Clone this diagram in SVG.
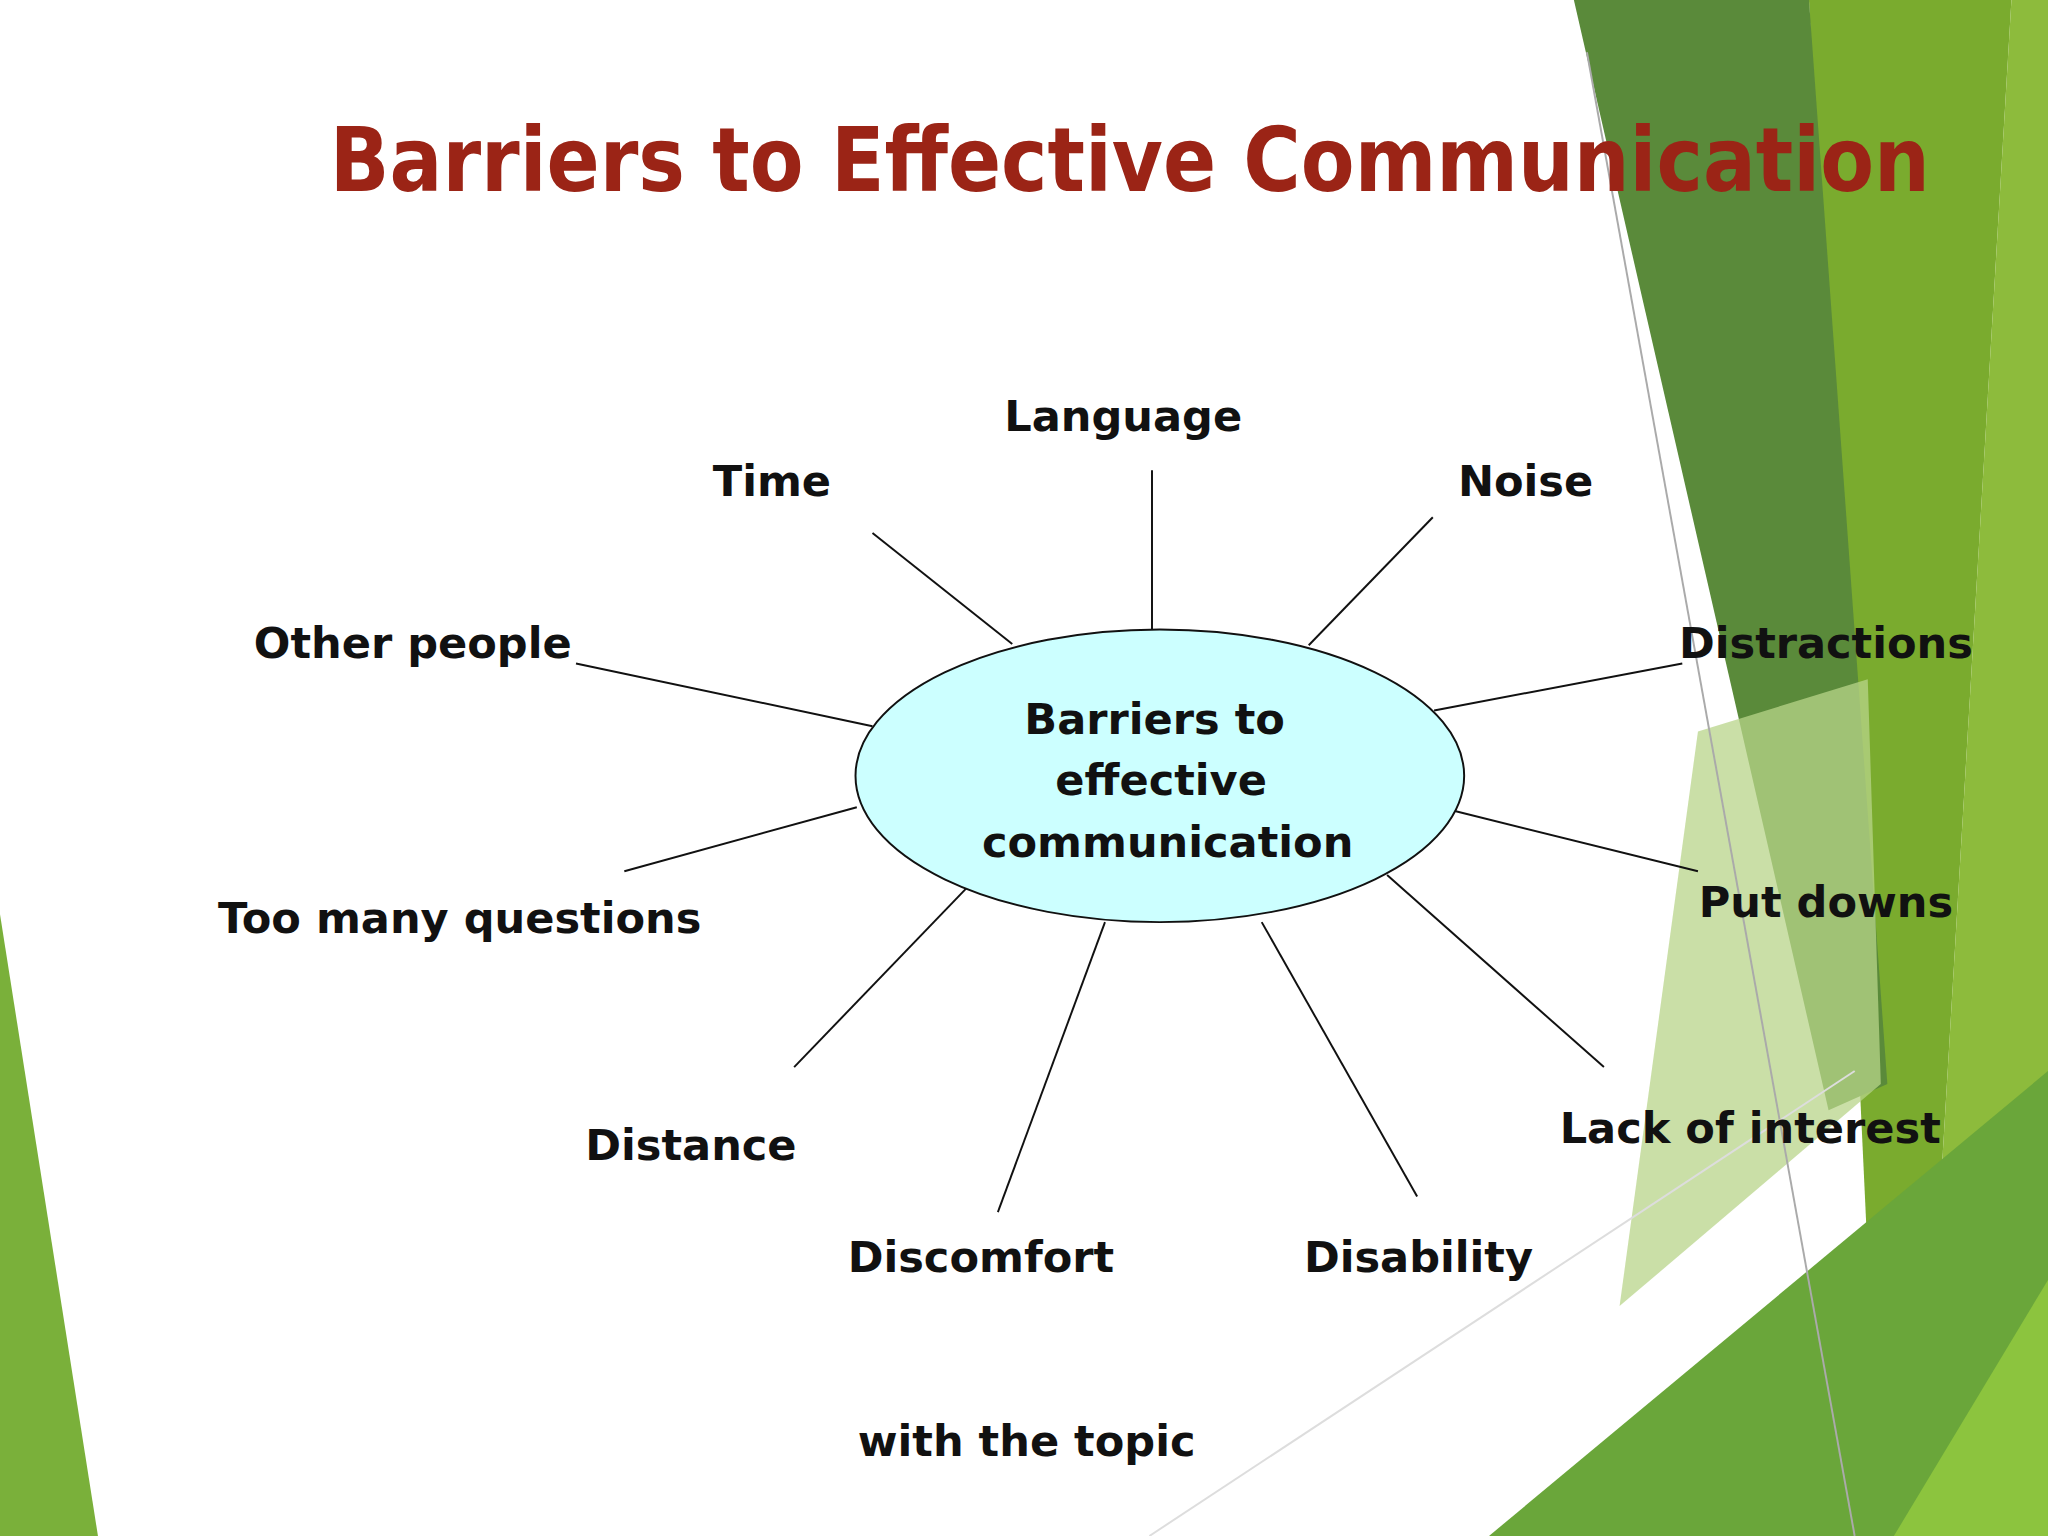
<svg xmlns="http://www.w3.org/2000/svg" width="2048" height="1536" viewBox="0 0 2048 1536">
<style>
.l{font-family:"DejaVu Sans",sans-serif;font-weight:bold;font-size:33px;fill:#111}
.c{stroke:#111;stroke-width:1.5;fill:none}
</style>
<rect width="2048" height="1536" fill="#fff"/>
<g transform="scale(1.30612)">
<g id="background">
<polygon points="1385,0 1540,0 1470,1176 1440,1176" fill="#7aab2e"/>
<polygon points="1540,0 1568,0 1568,1176 1470,1176" fill="#8dbb3c"/>
<polygon points="1205,0 1385,0 1445,830 1400,850" fill="#5a8a3a"/>
<polygon points="1300,560 1430,520 1440,830 1240,1000" fill="#b8d48a" opacity="0.75"/>
<polygon points="1140,1176 1568,820 1568,1176" fill="#6aa63a"/>
<polygon points="1450,1176 1568,980 1568,1176" fill="#8cc43e"/>
<polygon points="0,700 0,1176 75,1176" fill="#7ab03a"/>
<line x1="1215" y1="40" x2="1420" y2="1176" stroke="#aaa" stroke-width="1.5"/>
<line x1="880" y1="1176" x2="1420" y2="820" stroke="#ddd" stroke-width="1.5"/>
</g>
<text x="865" y="146" text-anchor="middle" font-family="DejaVu Sans,sans-serif" font-weight="bold" font-size="68" fill="#9b2416" textLength="1225" lengthAdjust="spacingAndGlyphs">Barriers to Effective Communication</text>
<g id="connectors">
<line class="c" x1="882" y1="360" x2="882" y2="482"/>
<line class="c" x1="668" y1="408" x2="775" y2="493"/>
<line class="c" x1="1097" y1="396" x2="1002" y2="494"/>
<line class="c" x1="441" y1="508" x2="668" y2="556"/>
<line class="c" x1="1288" y1="508" x2="1098" y2="544"/>
<line class="c" x1="478" y1="667" x2="656" y2="618"/>
<line class="c" x1="1300" y1="667" x2="1110" y2="620"/>
<line class="c" x1="608" y1="817" x2="740" y2="680"/>
<line class="c" x1="1228" y1="817" x2="1062" y2="670"/>
<line class="c" x1="764" y1="928" x2="846" y2="706"/>
<line class="c" x1="1085" y1="916" x2="966" y2="706"/>
</g>
<g id="center"><ellipse cx="888" cy="594" rx="233" ry="112" fill="#ccffff" stroke="#111" stroke-width="1.5"/>
<text class="l" text-anchor="middle"><tspan x="884" y="562">Barriers to</tspan><tspan x="889" y="609">effective</tspan><tspan x="894" y="656">communication</tspan></text></g>
<g id="n-language"><text class="l" x="860" y="330" text-anchor="middle">Language</text></g>
<g id="n-time"><text class="l" x="591" y="380" text-anchor="middle">Time</text></g>
<g id="n-noise"><text class="l" x="1168" y="380" text-anchor="middle">Noise</text></g>
<g id="n-other"><text class="l" x="316" y="504" text-anchor="middle">Other people</text></g>
<g id="n-distr"><text class="l" x="1398" y="504" text-anchor="middle">Distractions</text></g>
<g id="n-toomany"><text class="l" x="352" y="714" text-anchor="middle">Too many questions</text></g>
<g id="n-put"><text class="l" x="1398" y="702" text-anchor="middle">Put downs</text></g>
<g id="n-distance"><text class="l" x="529" y="888" text-anchor="middle">Distance</text></g>
<g id="n-lack"><text class="l" x="1340" y="875" text-anchor="middle">Lack of interest</text></g>
<g id="n-discomfort"><text class="l" x="751" y="974" text-anchor="middle">Discomfort</text></g>
<g id="n-disability"><text class="l" x="1086" y="974" text-anchor="middle">Disability</text></g>
<g id="n-topic"><text class="l" x="786" y="1115" text-anchor="middle">with the topic</text></g>
</g>
</svg>
